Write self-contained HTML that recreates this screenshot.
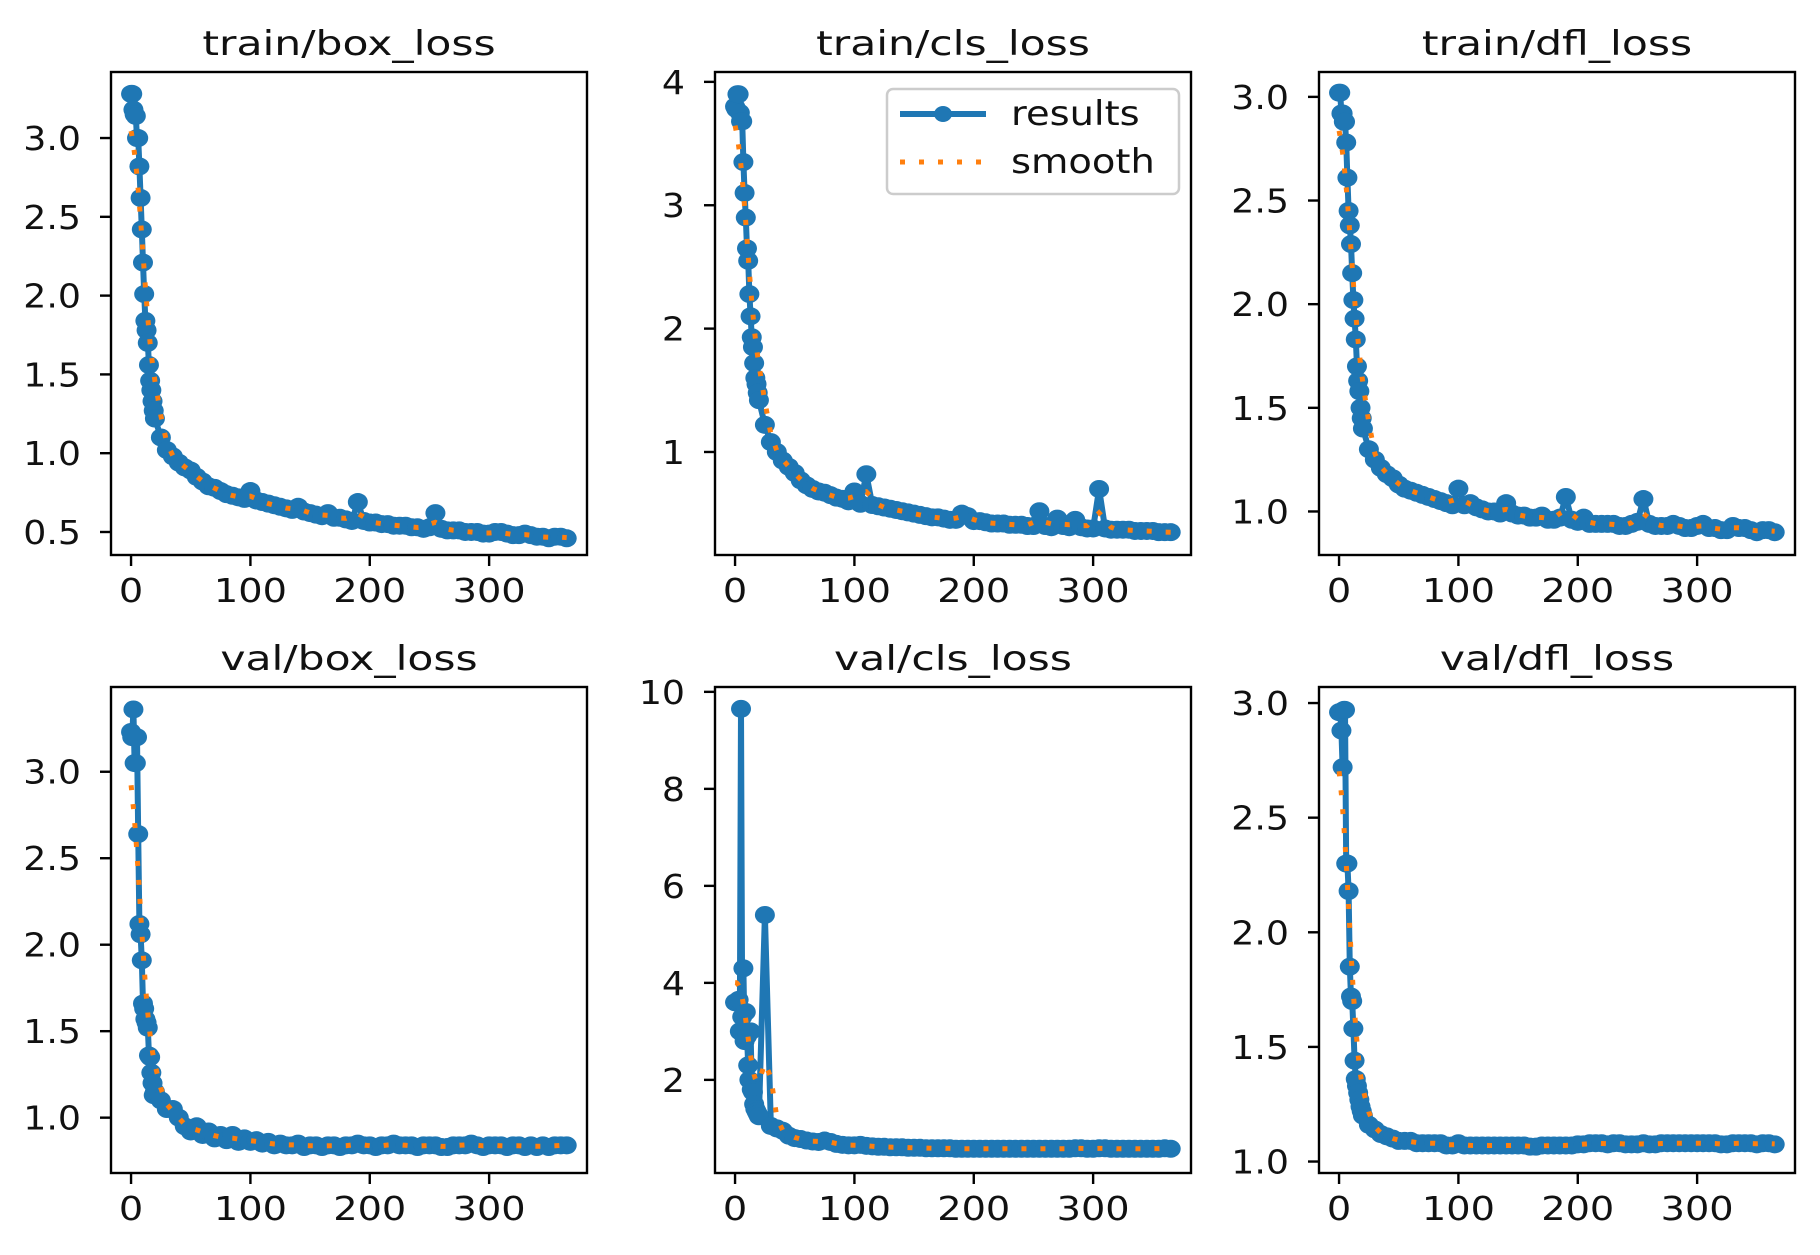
<!DOCTYPE html>
<html><head><meta charset="utf-8">
<style>
html,body{margin:0;padding:0;background:#fff;}
svg{display:block;font-family:"DejaVu Sans","Liberation Sans",sans-serif;}
</style></head>
<body>
<svg id="fig" width="1820" height="1255" viewBox="0 0 1820 1255" xmlns="http://www.w3.org/2000/svg"></svg>
<script>
const epochs = [0,1,2,3,4,5,6,7,8,9,10,11,12,13,14,15,16,17,18,19,20,25,30,35,40,45,50,55,60,65,70,75,80,85,90,95,100,105,110,115,120,125,130,135,140,145,150,155,160,165,170,175,180,185,190,195,200,205,210,215,220,225,230,235,240,245,250,255,260,265,270,275,280,285,290,295,300,305,310,315,320,325,330,335,340,345,350,355,360,365];
const trainBox = [3.28,3.28,3.18,3.15,3.14,3.0,3.0,2.82,2.62,2.42,2.21,2.01,1.84,1.78,1.70,1.56,1.46,1.40,1.33,1.27,1.22,1.10,1.02,0.98,0.94,0.91,0.89,0.85,0.82,0.79,0.78,0.76,0.74,0.73,0.72,0.71,0.76,0.70,0.69,0.68,0.67,0.66,0.65,0.64,0.66,0.63,0.62,0.61,0.60,0.62,0.59,0.59,0.58,0.57,0.69,0.57,0.56,0.56,0.55,0.55,0.54,0.54,0.54,0.53,0.53,0.52,0.53,0.62,0.52,0.51,0.51,0.51,0.50,0.50,0.50,0.49,0.49,0.50,0.50,0.49,0.48,0.48,0.49,0.48,0.47,0.47,0.46,0.47,0.47,0.46];
const trainCls = [3.80,3.78,3.90,3.90,3.75,3.68,3.68,3.35,3.10,2.90,2.65,2.55,2.28,2.10,1.93,1.85,1.72,1.60,1.55,1.48,1.42,1.22,1.08,1.00,0.93,0.88,0.83,0.77,0.73,0.70,0.68,0.67,0.65,0.63,0.62,0.60,0.68,0.58,0.82,0.57,0.56,0.55,0.54,0.53,0.52,0.51,0.50,0.49,0.48,0.47,0.47,0.46,0.45,0.45,0.50,0.48,0.44,0.44,0.43,0.42,0.42,0.42,0.41,0.41,0.41,0.40,0.40,0.52,0.40,0.39,0.46,0.40,0.39,0.45,0.39,0.38,0.38,0.70,0.38,0.37,0.37,0.37,0.37,0.36,0.36,0.36,0.36,0.35,0.35,0.35];
const trainDfl = [3.02,3.02,2.92,2.92,2.88,2.88,2.78,2.61,2.45,2.38,2.29,2.15,2.02,1.93,1.83,1.70,1.63,1.58,1.50,1.45,1.40,1.30,1.25,1.21,1.18,1.16,1.13,1.11,1.10,1.09,1.08,1.07,1.06,1.05,1.04,1.03,1.11,1.03,1.04,1.02,1.01,1.00,1.00,0.99,1.04,0.99,0.98,0.98,0.97,0.97,0.98,0.96,0.96,0.97,1.07,0.96,0.95,0.97,0.94,0.94,0.94,0.94,0.94,0.93,0.93,0.94,0.95,1.06,0.94,0.93,0.93,0.93,0.94,0.93,0.92,0.92,0.93,0.94,0.92,0.92,0.91,0.91,0.93,0.92,0.92,0.91,0.90,0.91,0.91,0.90];
const valBox = [3.23,3.20,3.36,3.05,3.05,3.20,2.64,2.12,2.06,1.91,1.66,1.63,1.57,1.55,1.52,1.36,1.35,1.26,1.20,1.13,1.15,1.10,1.05,1.05,1.00,0.95,0.92,0.95,0.90,0.92,0.88,0.90,0.87,0.90,0.86,0.88,0.86,0.87,0.85,0.86,0.84,0.85,0.84,0.84,0.85,0.83,0.84,0.84,0.83,0.84,0.84,0.83,0.84,0.84,0.85,0.84,0.84,0.83,0.84,0.84,0.85,0.84,0.84,0.84,0.83,0.84,0.84,0.84,0.83,0.83,0.84,0.84,0.84,0.85,0.84,0.83,0.84,0.84,0.84,0.83,0.84,0.84,0.83,0.84,0.83,0.84,0.83,0.84,0.84,0.84];
const valCls = [3.60,3.60,3.62,3.65,3.00,9.65,3.30,4.30,2.80,3.40,2.90,2.30,2.00,3.00,1.80,1.75,1.50,1.40,1.35,1.30,1.25,5.40,1.05,1.00,0.95,0.85,0.80,0.78,0.75,0.73,0.72,0.75,0.72,0.68,0.66,0.65,0.65,0.66,0.64,0.63,0.62,0.62,0.61,0.61,0.61,0.60,0.60,0.60,0.59,0.59,0.59,0.59,0.59,0.58,0.58,0.58,0.58,0.58,0.58,0.58,0.58,0.58,0.58,0.58,0.58,0.58,0.58,0.58,0.58,0.58,0.58,0.58,0.58,0.59,0.59,0.58,0.58,0.59,0.59,0.58,0.58,0.58,0.58,0.58,0.58,0.58,0.58,0.58,0.59,0.58];
const valDfl = [2.96,2.96,2.88,2.72,2.97,2.97,2.30,2.30,2.18,1.85,1.72,1.70,1.58,1.44,1.36,1.33,1.30,1.27,1.24,1.22,1.20,1.16,1.14,1.12,1.11,1.10,1.09,1.09,1.09,1.08,1.08,1.08,1.08,1.08,1.07,1.07,1.08,1.07,1.07,1.07,1.07,1.07,1.07,1.07,1.07,1.07,1.07,1.07,1.065,1.065,1.07,1.07,1.07,1.07,1.07,1.07,1.075,1.075,1.08,1.08,1.08,1.075,1.08,1.08,1.075,1.075,1.075,1.08,1.075,1.075,1.08,1.08,1.08,1.08,1.08,1.08,1.08,1.08,1.08,1.08,1.075,1.075,1.08,1.08,1.08,1.08,1.075,1.08,1.08,1.075];
const xTicks = [0,100,200,300];
const titles = ["train/box_loss","train/cls_loss","train/dfl_loss","val/box_loss","val/cls_loss","val/dfl_loss"];
const yTicksBox = [0.5,1.0,1.5,2.0,2.5,3.0];
const yTicksCls = [1,2,3,4];
const yTicksDfl = [1.0,1.5,2.0,2.5,3.0];
const yTicksVBox = [1.0,1.5,2.0,2.5,3.0];
const yTicksVCls = [2,4,6,8,10];
const yTicksVDfl = [1.0,1.5,2.0,2.5,3.0];
const legendLabels = ["results","smooth"];

const NS="http://www.w3.org/2000/svg";
const svg=document.getElementById('fig');
function mk(tag,attrs,parent){const e=document.createElementNS(NS,tag);for(const k in attrs)e.setAttribute(k,attrs[k]);(parent||svg).appendChild(e);return e;}
function txt(parent,x,y,s,size,sxs,anchor){
  const t=mk('text',{transform:'translate('+x+','+y+') scale('+sxs+',1)','text-anchor':anchor,'font-size':size,fill:'#111'},parent);
  t.textContent=s;return t;
}
const cols=[111,715,1319], rows=[72,687], W=476, H=[483,486];
const panels=[
 {d:trainBox,t:yTicksBox,lim:[0.354,3.419],dec:1},
 {d:trainCls,t:yTicksCls,lim:[0.165,4.08],dec:0},
 {d:trainDfl,t:yTicksDfl,lim:[0.79,3.12],dec:1},
 {d:valBox,t:yTicksVBox,lim:[0.68,3.49],dec:1},
 {d:valCls,t:yTicksVCls,lim:[0.08,10.1],dec:0},
 {d:valDfl,t:yTicksVDfl,lim:[0.95,3.07],dec:1}
];
const xmin=-16.8,xmax=382;
function smooth(ys){
  return ys.map((_,i)=>{let s=0,w=0;for(let j=0;j<ys.length;j++){const dx=epochs[j]-epochs[i];const g=Math.exp(-dx*dx/(2*5*5));s+=g*ys[j];w+=g;}return s/w;});
}
panels.forEach((p,k)=>{
  const L=cols[k%3], T=rows[Math.floor(k/3)], h=H[Math.floor(k/3)];
  const g=mk('g',{});
  
  
  const sx=v=>L+(v-xmin)/(xmax-xmin)*W;
  const sy=v=>T+h-(v-p.lim[0])/(p.lim[1]-p.lim[0])*h;
  const tt=txt(g,L+W/2,T-17,titles[k],34,1.25,'middle');
  
  
  xTicks.forEach(v=>{
    mk('line',{x1:sx(v),x2:sx(v),y1:T+h,y2:T+h+11,stroke:'#000','stroke-width':2.4},g);
    const lb=txt(g,sx(v),T+h+47,String(v),33,1.16,'middle');
    
    
  });
  p.t.forEach(v=>{
    mk('line',{x1:L-11,x2:L,y1:sy(v),y2:sy(v),stroke:'#000','stroke-width':2.4},g);
    const lb=txt(g,L-30,sy(v)+12,v.toFixed(p.dec),33,1.1,'end');
    
    
  });
  const pts=epochs.map((e,i)=>sx(e).toFixed(1)+','+sy(p.d[i]).toFixed(1)).join(' ');
  const line=mk('polyline',{points:pts,fill:'none',stroke:'#1f77b4','stroke-width':6,'stroke-linejoin':'round'},g);
  
  
  epochs.forEach((e,i)=>{
    const c=mk('ellipse',{cx:sx(e),cy:sy(p.d[i]),rx:10,ry:9,fill:'#1f77b4'},g);
    
    
  });
  const sm=smooth(p.d);
  const spts=epochs.map((e,i)=>sx(e).toFixed(1)+','+sy(sm[i]).toFixed(1)).join(' ');
  const sl=mk('polyline',{points:spts,fill:'none',stroke:'#ff7f0e','stroke-width':5,'stroke-dasharray':'5 14'},g);
  
  
  const fr=mk('rect',{x:L,y:T,width:W,height:h,fill:'none',stroke:'#000','stroke-width':2.4},g);
  
  
});
// legend
const lg=mk('g',{});


mk('rect',{x:887,y:89,width:292,height:105,rx:6,fill:'#fff','fill-opacity':0.85,stroke:'#ccc','stroke-width':2.5},lg);
mk('line',{x1:900,x2:986,y1:114,y2:114,stroke:'#1f77b4','stroke-width':6},lg);
mk('ellipse',{cx:943,cy:114,rx:9,ry:8,fill:'#1f77b4'},lg);
mk('line',{x1:900,x2:986,y1:162,y2:162,stroke:'#ff7f0e','stroke-width':5,'stroke-dasharray':'5 14'},lg);
legendLabels.forEach((s,i)=>{
  const t=txt(lg,1011,125+i*48,s,34,1.13,'start');
  
  
});
</script>
</body></html>
